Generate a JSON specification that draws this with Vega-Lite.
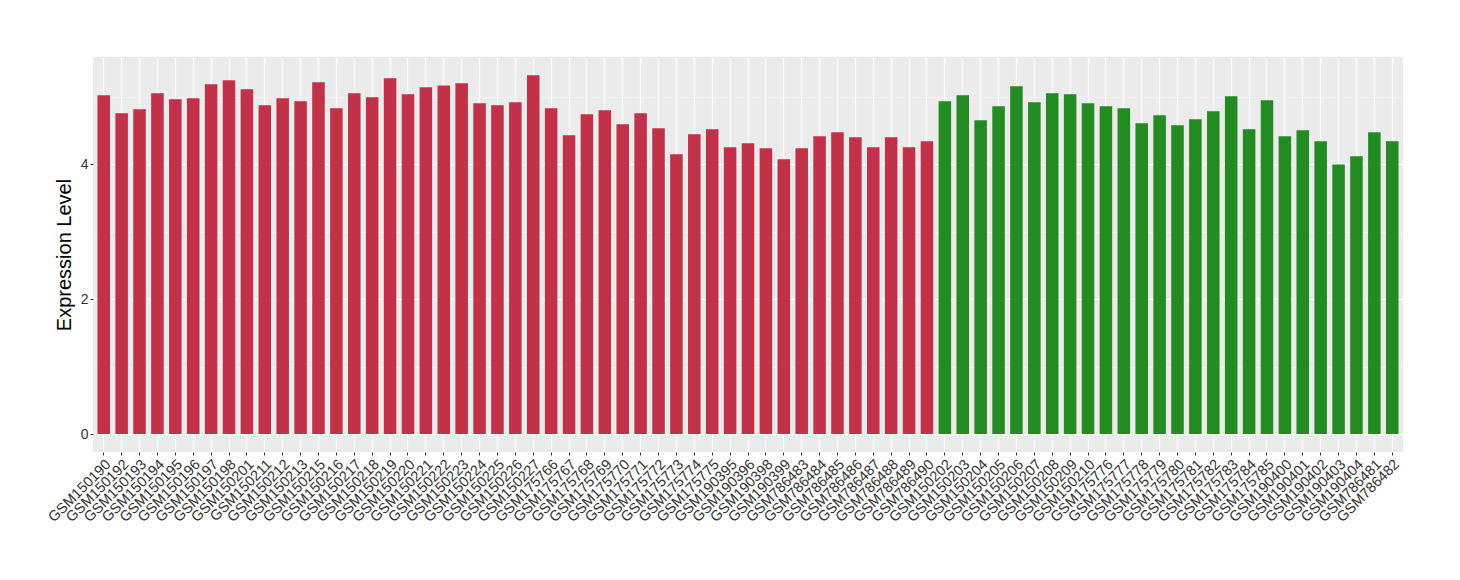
{
  "$schema": "https://vega.github.io/schema/vega-lite/v6.json",
  "width": 1310,
  "height": 395,
  "autosize": {"type": "none"},
  "padding": {"left": 93, "top": 57, "right": 57, "bottom": 128},
  "background": "white",
  "config": {
    "view": {"fill": "#EBEBEB", "stroke": null},
    "font": "Liberation Sans",
    "axis": {"labelFont": "Liberation Sans", "titleFont": "Liberation Sans"}
  },
  "data": {
    "values": [
      {"sample": "GSM150190", "value": 5.025, "group": "A"},
      {"sample": "GSM150192", "value": 4.758, "group": "A"},
      {"sample": "GSM150193", "value": 4.818, "group": "A"},
      {"sample": "GSM150194", "value": 5.055, "group": "A"},
      {"sample": "GSM150195", "value": 4.966, "group": "A"},
      {"sample": "GSM150196", "value": 4.981, "group": "A"},
      {"sample": "GSM150197", "value": 5.188, "group": "A"},
      {"sample": "GSM150198", "value": 5.248, "group": "A"},
      {"sample": "GSM150201", "value": 5.114, "group": "A"},
      {"sample": "GSM150211", "value": 4.877, "group": "A"},
      {"sample": "GSM150212", "value": 4.981, "group": "A"},
      {"sample": "GSM150213", "value": 4.936, "group": "A"},
      {"sample": "GSM150215", "value": 5.218, "group": "A"},
      {"sample": "GSM150216", "value": 4.832, "group": "A"},
      {"sample": "GSM150217", "value": 5.055, "group": "A"},
      {"sample": "GSM150218", "value": 4.996, "group": "A"},
      {"sample": "GSM150219", "value": 5.278, "group": "A"},
      {"sample": "GSM150220", "value": 5.04, "group": "A"},
      {"sample": "GSM150221", "value": 5.144, "group": "A"},
      {"sample": "GSM150222", "value": 5.173, "group": "A"},
      {"sample": "GSM150223", "value": 5.203, "group": "A"},
      {"sample": "GSM150224", "value": 4.907, "group": "A"},
      {"sample": "GSM150225", "value": 4.877, "group": "A"},
      {"sample": "GSM150226", "value": 4.921, "group": "A"},
      {"sample": "GSM150227", "value": 5.322, "group": "A"},
      {"sample": "GSM175766", "value": 4.832, "group": "A"},
      {"sample": "GSM175767", "value": 4.432, "group": "A"},
      {"sample": "GSM175768", "value": 4.743, "group": "A"},
      {"sample": "GSM175769", "value": 4.803, "group": "A"},
      {"sample": "GSM175770", "value": 4.595, "group": "A"},
      {"sample": "GSM175771", "value": 4.758, "group": "A"},
      {"sample": "GSM175772", "value": 4.536, "group": "A"},
      {"sample": "GSM175773", "value": 4.15, "group": "A"},
      {"sample": "GSM175774", "value": 4.447, "group": "A"},
      {"sample": "GSM175775", "value": 4.521, "group": "A"},
      {"sample": "GSM190395", "value": 4.254, "group": "A"},
      {"sample": "GSM190396", "value": 4.313, "group": "A"},
      {"sample": "GSM190398", "value": 4.239, "group": "A"},
      {"sample": "GSM190399", "value": 4.076, "group": "A"},
      {"sample": "GSM786483", "value": 4.239, "group": "A"},
      {"sample": "GSM786484", "value": 4.417, "group": "A"},
      {"sample": "GSM786485", "value": 4.476, "group": "A"},
      {"sample": "GSM786486", "value": 4.402, "group": "A"},
      {"sample": "GSM786487", "value": 4.254, "group": "A"},
      {"sample": "GSM786488", "value": 4.402, "group": "A"},
      {"sample": "GSM786489", "value": 4.254, "group": "A"},
      {"sample": "GSM786490", "value": 4.343, "group": "A"},
      {"sample": "GSM150202", "value": 4.936, "group": "B"},
      {"sample": "GSM150203", "value": 5.025, "group": "B"},
      {"sample": "GSM150204", "value": 4.654, "group": "B"},
      {"sample": "GSM150205", "value": 4.862, "group": "B"},
      {"sample": "GSM150206", "value": 5.159, "group": "B"},
      {"sample": "GSM150207", "value": 4.921, "group": "B"},
      {"sample": "GSM150208", "value": 5.055, "group": "B"},
      {"sample": "GSM150209", "value": 5.04, "group": "B"},
      {"sample": "GSM150210", "value": 4.907, "group": "B"},
      {"sample": "GSM175776", "value": 4.862, "group": "B"},
      {"sample": "GSM175777", "value": 4.832, "group": "B"},
      {"sample": "GSM175778", "value": 4.61, "group": "B"},
      {"sample": "GSM175779", "value": 4.729, "group": "B"},
      {"sample": "GSM175780", "value": 4.58, "group": "B"},
      {"sample": "GSM175781", "value": 4.669, "group": "B"},
      {"sample": "GSM175782", "value": 4.788, "group": "B"},
      {"sample": "GSM175783", "value": 5.01, "group": "B"},
      {"sample": "GSM175784", "value": 4.521, "group": "B"},
      {"sample": "GSM175785", "value": 4.951, "group": "B"},
      {"sample": "GSM190400", "value": 4.417, "group": "B"},
      {"sample": "GSM190401", "value": 4.506, "group": "B"},
      {"sample": "GSM190402", "value": 4.343, "group": "B"},
      {"sample": "GSM190403", "value": 4.001, "group": "B"},
      {"sample": "GSM190404", "value": 4.12, "group": "B"},
      {"sample": "GSM786481", "value": 4.476, "group": "B"},
      {"sample": "GSM786482", "value": 4.343, "group": "B"}
    ]
  },
  "resolve": {"axis": {"y": "independent"}},
  "layer": [
    {
      "mark": {"type": "rule", "opacity": 0},
      "encoding": {
        "x": {"field": "sample", "type": "nominal", "sort": null},
        "y": {
          "field": "value",
          "type": "quantitative",
          "scale": {"domain": [-0.266, 5.594], "nice": false, "zero": false},
          "axis": {
            "orient": "left",
            "values": [1, 3, 5],
            "labels": false,
            "ticks": false,
            "domain": false,
            "title": null,
            "grid": true,
            "gridColor": "#F5F5F5",
            "gridWidth": 0.6
          }
        }
      }
    },
    {
      "mark": {"type": "bar"},
      "encoding": {
        "x": {
          "field": "sample",
          "type": "nominal",
          "sort": null,
          "scale": {"paddingInner": 0.3, "paddingOuter": 0.25},
          "axis": {
            "title": null,
            "labelAngle": -45,
            "labelAlign": "right",
            "labelBaseline": "top",
            "labelFontSize": 14.5,
            "labelColor": "#333333",
            "labelPadding": 2,
            "tickColor": "#333333",
            "tickSize": 3,
            "domain": false,
            "grid": true,
            "gridColor": "#FFFFFF",
            "gridWidth": 1.2
          }
        },
        "y": {
          "field": "value",
          "type": "quantitative",
          "scale": {"domain": [-0.266, 5.594], "nice": false, "zero": false},
          "axis": {
            "orient": "left",
            "values": [0, 2, 4],
            "title": "Expression Level",
            "titleFontSize": 20,
            "titleFontWeight": "normal",
            "titleColor": "#000000",
            "titlePadding": 6,
            "labelFontSize": 14,
            "labelColor": "#333333",
            "labelPadding": 2,
            "tickColor": "#333333",
            "tickSize": 3,
            "domain": false,
            "grid": true,
            "gridColor": "#FFFFFF",
            "gridWidth": 1.2
          }
        },
        "color": {
          "field": "group",
          "type": "nominal",
          "scale": {"domain": ["A", "B"], "range": ["#C13148", "#228B22"]},
          "legend": null
        }
      }
    }
  ]
}
